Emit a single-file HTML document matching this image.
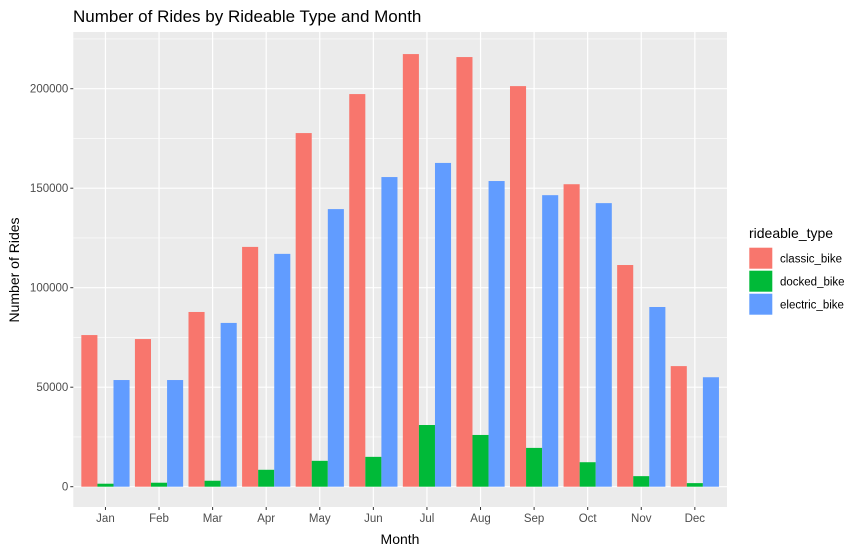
<!DOCTYPE html>
<html><head><meta charset="utf-8"><style>
body{margin:0;background:#fff;}
svg{display:block;font-family:"Liberation Sans",Arial,sans-serif;}
</style></head><body>
<svg id="chart" width="865" height="554">
<text x="73" y="22" font-size="17" fill="#000">Number of Rides by Rideable Type and Month</text>
<rect x="73.3" y="32" width="653.7" height="475" fill="#ebebeb"/>
<g id="grid"></g><g id="bars"></g><g id="axes"></g>
<text x="400" y="544" font-size="14" text-anchor="middle" fill="#000">Month</text>
<text transform="translate(19,270) rotate(-90)" font-size="14" text-anchor="middle" fill="#000">Number of Rides</text>
<g id="legend">
<text x="749" y="238" font-size="14" fill="#000">rideable_type</text>
</g>
</svg>
<script>
const months=["Jan","Feb","Mar","Apr","May","Jun","Jul","Aug","Sep","Oct","Nov","Dec"];
const seriesNames=["classic_bike","docked_bike","electric_bike"];
const classicBike=[76200,74200,87800,120500,177700,197300,217400,215900,201300,152000,111400,60600];
const dockedBike=[1500,2000,3000,8500,13000,15000,31000,26000,19500,12300,5300,1800];
const electricBike=[53600,53600,82300,117000,139500,155600,162700,153600,146500,142500,90300,55000];
const yTicks=[0,50000,100000,150000,200000];
const colors=["#F8766D","#00BA38","#619CFF"];
const series=[classicBike,dockedBike,electricBike];
const NS="http://www.w3.org/2000/svg";
const L=73.3,R=727,T=32,B=507;
const y0=486.7,ppu=(486.7-88.7)/200000;
function yS(v){return y0-v*ppu;}
const step=(R-L)/(months.length-1+1.2);
function xS(i){return L+(0.6+i)*step;}
function mk(tag,attrs,parent){const e=document.createElementNS(NS,tag);for(const k in attrs)e.setAttribute(k,attrs[k]);document.getElementById(parent).appendChild(e);return e;}
// minor grid
for(let i=0;i<yTicks.length-1;i++){const m=(yTicks[i]+yTicks[i+1])/2;
 const g=mk("line",{x1:L,x2:R,y1:yS(m),y2:yS(m),stroke:"#fff","stroke-width":0.6},"grid");
 
 }
{const m=yTicks[yTicks.length-1]+25000;if(yS(m)>T){const g=mk("line",{x1:L,x2:R,y1:yS(m),y2:yS(m),stroke:"#fff","stroke-width":0.6},"grid");
 
 }}
yTicks.forEach(v=>{
 const g=mk("line",{x1:L,x2:R,y1:yS(v),y2:yS(v),stroke:"#fff","stroke-width":1.2},"grid");
 
 
 const t=mk("line",{x1:L-3,x2:L,y1:yS(v),y2:yS(v),stroke:"#333","stroke-width":1},"axes");
 
 
 const tx=mk("text",{x:L-5,y:yS(v)+4,"font-size":11.5,"text-anchor":"end",fill:"#4d4d4d"},"axes");
 tx.textContent=v;
 
 
});
const bw=step*0.9/3;
months.forEach((m,i)=>{
 const g=mk("line",{x1:xS(i),x2:xS(i),y1:T,y2:B,stroke:"#fff","stroke-width":1.2},"grid");
 
 
 const t=mk("line",{x1:xS(i),x2:xS(i),y1:B,y2:B+3,stroke:"#333","stroke-width":1},"axes");
 
 
 const tx=mk("text",{x:xS(i),y:B+15,"font-size":11.5,"text-anchor":"middle",fill:"#4d4d4d"},"axes");
 tx.textContent=m;
 
 
 series.forEach((s,j)=>{
  const x=xS(i)-1.5*bw+j*bw;
  const r=mk("rect",{x:x,y:yS(s[i]),width:bw,height:yS(0)-yS(s[i]),fill:colors[j]},"bars");
  
  
 });
});
seriesNames.forEach((n,j)=>{
 const y=247.7+j*23;
 const k=mk("rect",{x:749.3,y:y,width:23,height:21,fill:colors[j]},"legend");
 
 
 const t=mk("text",{x:780,y:y+15,"font-size":11.5,fill:"#000"},"legend");
 t.textContent=n;
 
 
});
</script>
</body></html>
